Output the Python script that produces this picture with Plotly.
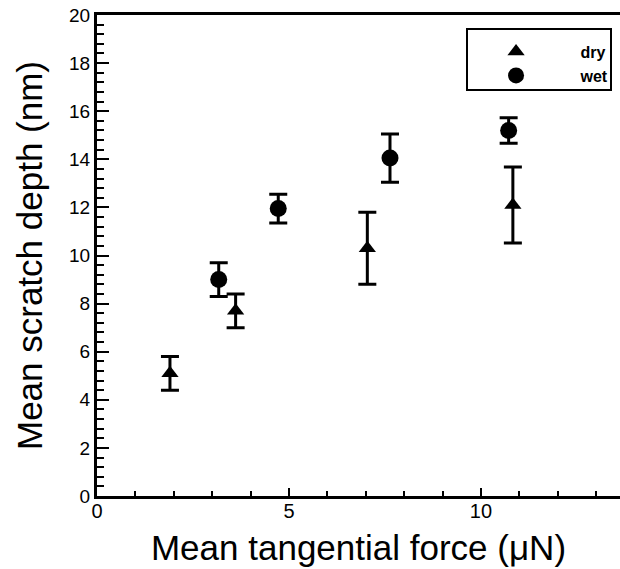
import plotly.graph_objects as go

# Data
dry_x = [1.90, 3.61, 7.04, 10.83]
dry_y = [5.1, 7.7, 10.3, 12.1]
dry_err = [0.7, 0.7, 1.5, 1.58]

wet_x = [3.17, 4.72, 7.63, 10.72]
wet_y = [9.0, 11.95, 14.05, 15.2]
wet_err = [0.7, 0.6, 1.0, 0.53]

x_label = "Mean tangential force (\u03bcN)"
y_label = "Mean scratch depth (nm)"
FONT = "Liberation Sans, Arial, Helvetica, sans-serif"
NB = "\u00a0"

fig = go.Figure()
fig.add_trace(go.Scatter(
    x=dry_x, y=dry_y, mode="markers", name=NB * 10 + "<b>dry</b>",
    marker=dict(symbol="triangle-up", size=15, color="black"),
    error_y=dict(type="data", array=dry_err, visible=True, color="black",
                 thickness=3, width=9),
))
fig.add_trace(go.Scatter(
    x=wet_x, y=wet_y, mode="markers", name=NB * 10 + "<b>wet</b>",
    marker=dict(symbol="circle", size=17, color="black"),
    error_y=dict(type="data", array=wet_err, visible=True, color="black",
                 thickness=3, width=9),
))

fig.update_layout(
    width=620, height=569,
    margin=dict(l=97, r=0, t=15, b=73),
    paper_bgcolor="white", plot_bgcolor="white",
    font=dict(family=FONT, color="black"),
    showlegend=True,
    legend=dict(x=0.763, y=0.959, xanchor="left", yanchor="top",
                bgcolor="rgba(0,0,0,0)", borderwidth=0,
                font=dict(size=16, family=FONT, color="black"),
                itemsizing="trace", tracegroupgap=0),
    shapes=[dict(type="rect", xref="paper", yref="paper",
                 x0=(467 - 97) / 523, x1=(611 - 97) / 523,
                 y0=1 - (90 - 15) / 481, y1=1 - (29 - 15) / 481,
                 line=dict(color="black", width=2), fillcolor="rgba(0,0,0,0)")],
)

fig.update_xaxes(
    range=[0, 13.62], showgrid=False, zeroline=False,
    showline=True, linecolor="black", linewidth=3, mirror=True,
    ticks="inside", tickcolor="black", ticklen=8, tickwidth=2,
    dtick=5, tick0=0, ticklabeloverflow="allow", ticklabelstandoff=-5,
    minor=dict(ticks="inside", dtick=1, tick0=0, ticklen=5, tickwidth=1.5, tickcolor="black"),
    tickfont=dict(size=20, family=FONT, color="black"),
    title=dict(text=x_label, font=dict(size=35, family=FONT, color="black"), standoff=15),
)
fig.update_yaxes(
    range=[0, 20], showgrid=False, zeroline=False,
    showline=True, linecolor="black", linewidth=3, mirror=False,
    ticks="inside", tickcolor="black", ticklen=12, tickwidth=2,
    dtick=2, tick0=0, ticklabeloverflow="allow",
    minor=dict(ticks="inside", dtick=0.4, tick0=0, ticklen=7, tickwidth=1.5, tickcolor="black"),
    tickfont=dict(size=19, family=FONT, color="black"),
    title=dict(text=y_label, font=dict(size=35, family=FONT, color="black"), standoff=16),
)

fig.write_html("out.html", config={"displayModeBar": False},
               post_script="document.body.style.margin='0';")
